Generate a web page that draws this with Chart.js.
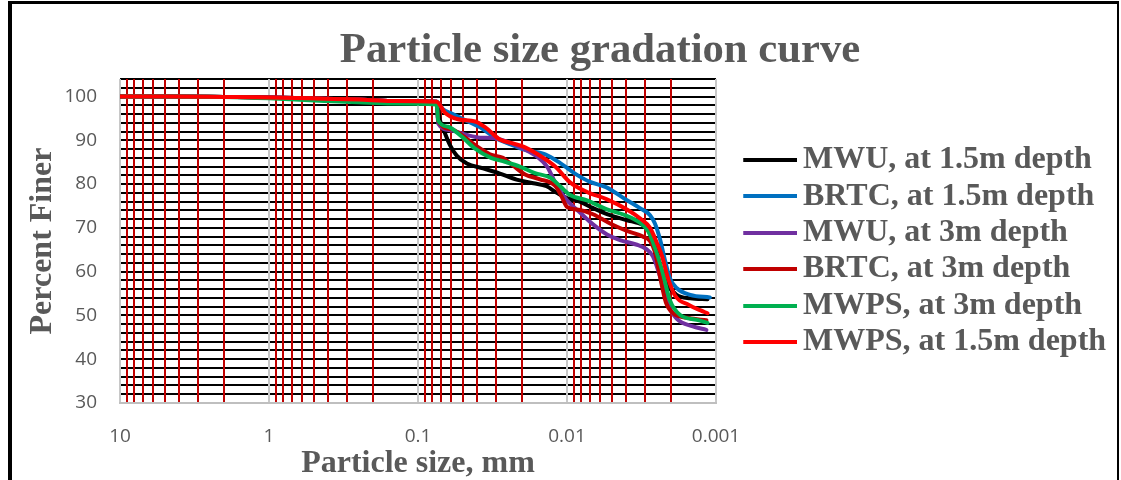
<!DOCTYPE html>
<html>
<head>
<meta charset="utf-8">
<script src="https://cdn.jsdelivr.net/npm/chart.js@4.4.1/dist/chart.umd.min.js"></script>
<style>
html,body{margin:0;padding:0;background:#fff;}
canvas{display:block;}
</style>
</head>
<body>
<canvas id="c" width="1121" height="480"></canvas>
<script>
// ---------- data ----------
const seriesNames = ['MWU, at 1.5m depth','BRTC, at 1.5m depth','MWU, at 3m depth','BRTC, at 3m depth','MWPS, at 3m depth','MWPS, at 1.5m depth'];
const seriesColors = ['#000000','#0070c0','#7030a0','#c00000','#00b050','#ff0000'];

// sieve analysis (mm)
const sieveSizes = [10, 4.75, 2, 1, 0.425, 0.25, 0.15, 0.075];
const sievePct = [100, 100, 99.9, 99.8, 99.5, 99.3, 99.0, 98.8];
const sievePctMwps3 = [100, 100, 99.9, 99.6, 99.0, 98.7, 98.4, 98.2];

// hydrometer analysis (mm, % finer)
const mwu15Size = [0.0712, 0.0659, 0.061, 0.055, 0.047, 0.0366, 0.0282, 0.0218, 0.0168, 0.0137, 0.0117, 0.01, 0.0086, 0.00666, 0.00514, 0.004, 0.00307, 0.00277, 0.00257, 0.00238, 0.00214, 0.00184, 0.00149, 0.00114];
const mwu15Pct  = [94.6, 91.6, 88.9, 86.5, 84.7, 83.6, 82.4, 81.0, 80.2, 79.5, 78.0, 76.8, 76.3, 74.5, 72.9, 71.8, 70.6, 69.5, 66.5, 61.5, 57.3, 54.7, 53.9, 53.7];

const brtc15Size = [0.0676, 0.0594, 0.0462, 0.0372, 0.0304, 0.0249, 0.0191, 0.0140, 0.0111, 0.00884, 0.00701, 0.00548, 0.00396, 0.00324, 0.00277, 0.00257, 0.00238, 0.0022, 0.00204, 0.00183, 0.00149, 0.0011];
const brtc15Pct  = [97.0, 96.1, 94.3, 92.7, 90.6, 89.3, 87.8, 86.8, 84.8, 82.4, 80.5, 79.3, 76.3, 74.5, 72.9, 71.0, 67.5, 62.6, 58.5, 56.2, 54.7, 54.1];

const mwu3Size = [0.0731, 0.061, 0.047, 0.0384, 0.0314, 0.0253, 0.0197, 0.0159, 0.0136, 0.0117, 0.0100, 0.00818, 0.00669, 0.00539, 0.00441, 0.00344, 0.00295, 0.00265, 0.00238, 0.00213, 0.00183, 0.00143, 0.00116];
const mwu3Pct  = [93.8, 92.3, 91.2, 90.6, 90.5, 89.7, 88.1, 86.3, 84.0, 79.6, 76.3, 73.5, 70.8, 68.5, 67.2, 66.2, 65.2, 63.5, 59.0, 53.0, 49.2, 47.5, 46.7];

const brtc3Size = [0.0731, 0.0594, 0.0499, 0.0402, 0.0329, 0.0269, 0.0230, 0.0191, 0.0152, 0.0120, 0.01085, 0.0100, 0.00818, 0.00669, 0.00514, 0.00396, 0.00309, 0.00277, 0.00257, 0.00238, 0.00217, 0.00194, 0.00152, 0.00116];
const brtc3Pct  = [94.4, 92.5, 91.0, 88.6, 86.8, 86.0, 84.2, 82.2, 81.1, 79.6, 77.1, 74.8, 74.1, 73.1, 71.0, 69.3, 68.0, 67.0, 64.5, 59.0, 53.0, 50.5, 49.4, 48.9];

const mwps3Size = [0.0731, 0.0629, 0.0507, 0.0414, 0.0324, 0.0261, 0.0207, 0.0164, 0.0130, 0.0111, 0.00954, 0.00734, 0.00539, 0.00408, 0.00324, 0.00286, 0.00257, 0.00227, 0.00204, 0.00174, 0.00134, 0.00114];
const mwps3Pct  = [94.5, 93.1, 90.8, 88.1, 86.0, 85.1, 84.0, 82.5, 81.5, 79.5, 77.5, 76.3, 74.2, 72.9, 71.2, 69.3, 65.5, 59.6, 53.5, 50.1, 49.0, 48.3];

const mwps15Size = [0.0659, 0.0539, 0.0414, 0.0355, 0.0282, 0.0230, 0.0191, 0.0157, 0.0120, 0.00954, 0.00734, 0.00539, 0.00396, 0.00324, 0.00277, 0.00249, 0.00230, 0.0021, 0.00188, 0.00152, 0.00128, 0.00114];
const mwps15Pct  = [96.3, 94.8, 94.3, 93.0, 90.2, 89.3, 88.4, 86.8, 84.0, 80.4, 78.2, 76.5, 74.2, 72.2, 70.0, 66.5, 63.5, 58.5, 54.5, 52.4, 51.2, 50.5];

// axis ticks
const xMajorTicks = [10, 1, 0.1, 0.01, 0.001];
const xTickLabels = ['10', '1', '0.1', '0.01', '0.001'];
const xMinorMultipliers = [2, 3, 4, 5, 6, 7, 8, 9];
const yTickLabels = [30, 40, 50, 60, 70, 80, 90, 100];

// ---------- build ----------
const xGridValues = [];
xMajorTicks.forEach(d => {
  xGridValues.push(d);
  if (d < 10) xMinorMultipliers.forEach(m => xGridValues.push(d * m));
});
function isDecade(v) {
  const l = Math.log10(v);
  return Math.abs(l - Math.round(l)) < 1e-6;
}
function toPoints(sizes, pcts) { return sizes.map((s, i) => ({x: s, y: pcts[i]})); }

function legendLine(color) {
  const cv = document.createElement('canvas');
  cv.width = 87; cv.height = 4;
  const g = cv.getContext('2d');
  g.fillStyle = color;
  g.fillRect(33, 0, 54, 4);
  return cv;
}

const seriesData = [
  toPoints(sieveSizes.concat(mwu15Size), sievePct.concat(mwu15Pct)),
  toPoints(sieveSizes.concat(brtc15Size), sievePct.concat(brtc15Pct)),
  toPoints(sieveSizes.concat(mwu3Size), sievePct.concat(mwu3Pct)),
  toPoints(sieveSizes.concat(brtc3Size), sievePct.concat(brtc3Pct)),
  toPoints(sieveSizes.concat(mwps3Size), sievePctMwps3.concat(mwps3Pct)),
  toPoints(sieveSizes.concat(mwps15Size), sievePct.concat(mwps15Pct))
];

const datasets = seriesNames.map((name, i) => ({
  label: name,
  data: seriesData[i],
  borderColor: seriesColors[i],
  backgroundColor: seriesColors[i],
  borderWidth: 4,
  pointRadius: 0,
  pointHoverRadius: 0,
  pointStyle: legendLine(seriesColors[i]),
  cubicInterpolationMode: 'monotone',
  borderCapStyle: 'round',
  borderJoinStyle: 'round',
  fill: false,
  order: seriesNames.length - 1 - i
}));

const serif = 'Liberation Serif, Times New Roman, serif';
const sans = 'Open Sans, Liberation Sans, sans-serif';
const grey = '#595959';

const framePlugin = {
  id: 'frame',
  afterLayout(chart) {
    // let the y tick labels use the space left of the axis box,
    // and the legend text run up to the frame
    chart.scales.y.left = 12;
    if (chart.legend) chart.legend.right = 1116;
  },
  afterDraw(chart) {
    const ctx = chart.ctx;
    ctx.save();
    ctx.fillStyle = '#000';
    ctx.fillRect(8, 1, 4, 479);
    ctx.fillRect(8, 1, 1111, 3);
    ctx.fillRect(1117, 1, 2, 479);
    ctx.restore();
  }
};

new Chart(document.getElementById('c'), {
  type: 'line',
  data: { datasets },
  plugins: [framePlugin],
  options: {
    responsive: false,
    animation: false,
    devicePixelRatio: 1,
    layout: { padding: { left: 99, right: 20, top: 0, bottom: 0 } },
    plugins: {
      title: {
        display: true,
        text: 'Particle size gradation curve',
        color: grey,
        font: { family: serif, size: 42.7, weight: 'bold', lineHeight: 1.2 },
        padding: { top: 25, bottom: 2.76 }
      },
      legend: {
        position: 'right',
        align: 'center',
        maxWidth: 385,
        title: { display: true, text: ' ', font: { size: 10, lineHeight: 1 }, padding: { top: 0, bottom: 12 } },
        labels: {
          usePointStyle: true,
          pointStyleWidth: 66.6,
          padding: 4.4,
          color: grey,
          font: { family: serif, size: 32, weight: 'bold' },
          sort: (a, b) => a.datasetIndex - b.datasetIndex
        }
      },
      tooltip: { enabled: false }
    },
    scales: {
      x: {
        type: 'logarithmic',
        min: 0.001,
        max: 10,
        reverse: true,
        afterFit: s => { s.height = 77; },
        afterBuildTicks: s => { s.ticks = xGridValues.map(v => ({ value: v })); },
        ticks: {
          autoSkip: false,
          maxRotation: 0,
          minRotation: 0,
          padding: 22,
          color: grey,
          font: { family: sans, size: 19 },
          callback: v => {
            const idx = xMajorTicks.findIndex(m => Math.abs(m - v) < m * 1e-6);
            return idx >= 0 ? xTickLabels[idx] : '';
          }
        },
        grid: {
          drawTicks: false,
          z: -1,
          lineWidth: 2,
          color: c => (c.tick && isDecade(c.tick.value)) ? '#c8c8c8' : '#c00000'
        },
        border: { display: true, color: '#bfbfbf', width: 2 },
        title: {
          display: true,
          text: 'Particle size, mm',
          color: grey,
          font: { family: serif, size: 32, weight: 'bold', lineHeight: 1 },
          padding: { top: 0, bottom: 0 }
        }
      },
      y: {
        type: 'linear',
        min: 30,
        max: 104,
        afterFit: s => { s.width = 21; },
        ticks: {
          stepSize: 2,
          autoSkip: false,
          padding: 23,
          color: grey,
          font: { family: sans, size: 19 },
          callback: v => (yTickLabels.includes(Math.round(v)) && Math.abs(v - Math.round(v)) < 1e-6) ? String(Math.round(v)) : ''
        },
        grid: {
          drawTicks: false,
          z: -2,
          lineWidth: 2,
          color: c => (c.tick && Math.round(c.tick.value) === 30) ? '#bfbfbf' : '#000000'
        },
        border: { display: false },
        title: {
          display: true,
          text: 'Percent Finer',
          color: grey,
          font: { family: serif, size: 32, weight: 'bold', lineHeight: 1 },
          padding: { top: 15, bottom: 0 }
        }
      }
    }
  }
});
</script>
</body>
</html>
